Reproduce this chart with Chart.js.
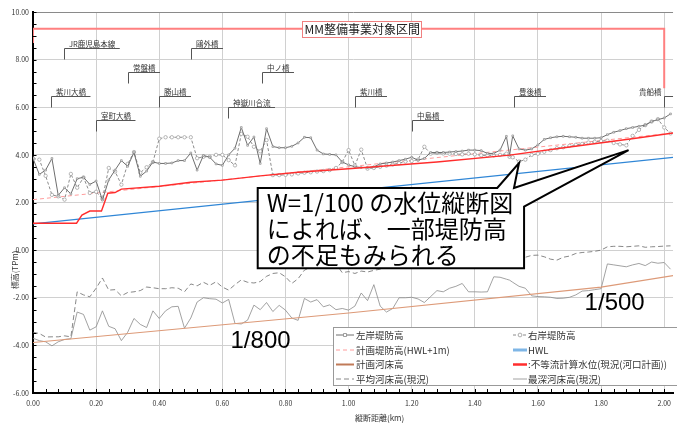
<!DOCTYPE html>
<html lang="ja">
<head>
<meta charset="utf-8">
<title>紫川 水位縦断図</title>
<script src="https://cdn.jsdelivr.net/npm/chart.js@4.4.1/dist/chart.umd.min.js"></script>
<style>
  html, body { margin: 0; padding: 0; background: #fff; }
  #wrap { width: 677px; height: 423px; }
</style>
</head>
<body>
<div id="wrap"><canvas id="profileChart" width="677" height="423"></canvas></div>
<script>
// 測点 (縦断距離 km)
const stations = [
  0.00, 0.02, 0.04, 0.06, 0.08, 0.10, 0.12, 0.14, 0.16, 0.18,
  0.20, 0.22, 0.24, 0.26, 0.28, 0.30, 0.32, 0.34, 0.36, 0.38,
  0.40, 0.42, 0.44, 0.46, 0.48, 0.50, 0.52, 0.54, 0.56, 0.58,
  0.60, 0.62, 0.64, 0.66, 0.68, 0.70, 0.72, 0.74, 0.76, 0.78,
  0.80, 0.82, 0.84, 0.86, 0.88, 0.90, 0.92, 0.94, 0.96, 0.98,
  1.00, 1.02, 1.04, 1.06, 1.08, 1.10, 1.12, 1.14, 1.16, 1.18,
  1.20, 1.22, 1.24, 1.26, 1.28, 1.30, 1.32, 1.34, 1.36, 1.38,
  1.40, 1.42, 1.44, 1.46, 1.48, 1.50, 1.51, 1.52, 1.54, 1.56, 1.58,
  1.60, 1.62, 1.64, 1.66, 1.68, 1.70, 1.72, 1.74, 1.76, 1.78,
  1.80, 1.82, 1.84, 1.86, 1.88, 1.90, 1.92, 1.94, 1.96, 1.98,
  2.00, 2.02
];

// 左岸堤防高
const leftBank = [
  3.85, 3.18, 3.36, 3.85, 2.30, 2.62, 2.36, 3.00, 3.06, 2.76,
  2.90, 2.10, 2.95, 3.36, 3.76, 3.52, 4.10, 3.10, 3.32, 3.70,
  3.64, 3.64, 3.66, 3.76, 3.76, 4.08, 3.36, 3.98, 3.90, 3.62,
  3.56, 4.00, 4.28, 5.15, 4.40, 4.75, 3.64, 5.10, 4.35, 4.30,
  4.30, 4.36, 4.50, 4.74, 4.72, 4.20, 4.04, 4.02, 4.00, 3.70,
  3.58, 3.50, 3.47, 3.46, 3.50, 3.62, 3.66, 3.70, 3.76, 3.82,
  3.90, 3.78, 3.85, 4.10, 4.10, 4.10, 4.12, 4.14, 4.16, 4.20,
  4.20, 4.18, 4.06, 4.06, 4.20, 4.78, 3.98, 4.80, 4.25, 4.20, 4.25,
  4.42, 4.65, 4.72, 4.76, 4.78, 4.76, 4.74, 4.70, 4.70, 4.70,
  4.72, 4.85, 4.95, 5.02, 5.10, 5.15, 5.20, 5.25, 5.40, 5.48,
  5.55, 5.72
];

// 右岸堤防高
const rightBank = [
  3.85, 3.80, 3.12, 2.32, 2.26, 2.12, 3.20, 2.62, 3.05, 2.40,
  2.45, 2.15, 3.45, 3.30, 2.75, 3.62, 4.12, 3.25, 3.48, 3.70,
  4.68, 4.74, 4.74, 4.74, 4.74, 4.74, 3.86, 3.92, 3.92, 4.00,
  4.00, 3.78, 3.56, 4.88, 4.76, 4.34, 4.15, 4.62, 3.15, 3.15,
  3.16, 3.18, 3.22, 3.25, 3.27, 3.30, 3.32, 3.36, 3.45, 3.70,
  4.20, 3.55, 4.22, 3.42, 3.45, 3.50, 3.55, 3.60, 3.65, 3.72,
  3.74, 3.80, 4.34, 4.05, 4.08, 4.06, 4.05, 4.04, 4.02, 4.05,
  4.02, 3.98, 3.98, 3.98, 4.00, 4.05, 3.92, 3.90, 3.72, 3.80, 4.00,
  4.05, 4.13, 4.20, 4.28, 4.32, 4.38, 4.42, 4.46, 4.52, 4.55,
  4.58, 4.60, 4.50, 4.44, 4.40, 4.80, 5.05, 5.25, 5.40, 5.50,
  5.15, 4.90
];

// 平均河床高(現況)
const avgBed = [
  -3.45, -3.50, -3.65, -3.64, -3.64, -3.60, -3.64, -1.75, -1.88, -1.96,
  -1.60, -1.17, -1.68, -1.66, -1.92, -1.78, -1.75, -1.70, -1.55, -1.58,
  -1.62, -1.62, -1.58, -1.60, -1.75, -1.42, -1.50, -1.35, -1.48, -1.33,
  -1.55, -1.68, -1.45, -1.25, -1.35, -1.38, -1.32, -1.10, -0.98, -0.95,
  -1.12, -1.40, -1.20, -0.84, -0.72, -0.70, -0.68, -0.60, -0.58, -0.95,
  -0.90, -0.98, -0.88, -0.92, -0.85, -0.80, -0.72, -0.70, -0.72, -0.65,
  -0.66, -0.60, -0.62, -0.55, -0.58, -0.50, -0.52, -0.45, -0.48, -0.42,
  -0.44, -0.40, -0.42, -0.38, -0.35, -0.32, -0.30, -0.28, -0.25, -0.30, -0.22,
  -0.21, -0.28, -0.38, -0.42, -0.30, -0.25, -0.14, -0.10, -0.08, -0.05,
  0.00, 0.14, 0.16, 0.16, 0.14, 0.16, 0.18, 0.12, 0.14, 0.15,
  0.17, 0.18
];

// 最深河床高(現況)
const deepBed = [
  -3.70, -3.80, -3.85, -4.02, -3.85, -3.75, -3.72, -2.60, -2.70, -3.36,
  -3.22, -2.55, -3.20, -3.30, -3.80, -3.45, -2.87, -3.12, -3.25, -2.55,
  -2.87, -2.55, -2.38, -2.36, -3.28, -2.85, -2.18, -2.00, -2.04, -2.06,
  -2.22, -2.07, -3.08, -3.10, -2.94, -2.31, -2.50, -2.20, -2.58, -2.32,
  -2.52, -2.85, -2.95, -2.03, -2.18, -2.08, -2.38, -2.30, -2.50, -2.45,
  -2.52, -2.35, -1.80, -2.12, -1.45, -2.35, -2.60, -2.45, -2.00, -2.00,
  -1.98, -2.05, -2.20, -1.95, -1.70, -1.75, -1.60, -1.52, -1.40, -1.75,
  -1.75, -1.76, -1.75, -1.12, -1.14, -1.22, -1.26, -1.35, -1.52, -1.60, -1.92,
  -1.95, -1.96, -1.98, -2.03, -2.02, -1.98, -1.88, -1.72, -1.70, -1.66,
  -1.62, -0.58, -0.62, -0.66, -0.70, -0.62, -0.56, -0.65, -0.50, -0.55,
  -0.52, -0.80
];

// 計画堤防高(HWL+1m)
const planBankKm = [0, 2.03];
const planBank = [2.12, 4.92];

// HWL
const hwlKm = [0, 2.03];
const hwl = [1.10, 3.90];

// 計画河床高 (1/800 → 1/500)
const planBedKm = [0, 1.00, 1.80, 2.03];
const planBed = [-3.88, -2.64, -1.55, -1.07];

// 不等流計算水位(現況(河口計画))
const waterKm = [0, 0.138, 0.155, 0.18, 0.217, 0.237, 0.26, 0.28, 0.40, 0.50, 0.60, 0.72, 0.84, 1.00, 1.28, 1.51, 1.70, 1.91, 2.03];
const waterLevel = [1.13, 1.13, 1.47, 1.64, 1.64, 2.39, 2.42, 2.56, 2.68, 2.85, 2.94, 3.12, 3.27, 3.42, 3.70, 3.99, 4.33, 4.70, 4.92];

// MM整備事業対象区間
const mmKm = [0, 0, 2.0, 2.0];
const mmLevel = [8.7, 9.3, 9.3, 6.8];
const mmTitle = 'MM整備事業対象区間';
const mmTitleKm = 1.043;

// 橋梁など
const bridgeNames = ['紫川大橋', 'JR鹿児島本線', '室町大橋', '常盤橋', '勝山橋', '鷗外橋', '神嶽川合流', '中ノ橋', '紫川橋', '中島橋', '豊後橋', '貴船橋'];
const bridgeKm = [0.058, 0.098, 0.200, 0.300, 0.400, 0.500, 0.618, 0.725, 1.020, 1.200, 1.523, 2.000];
const bridgeLevel = [6.47, 8.47, 5.47, 7.47, 6.47, 8.47, 6.00, 7.47, 6.47, 5.47, 6.47, 6.47];

// 注記
const noteLines = ['W=1/100 の水位縦断図', 'によれば、一部堤防高', 'の不足もみられる'];
const gradeLabels = ['1/800', '1/500'];
const gradeKm = [0.721, 1.843];
const gradeLevel = [-3.82, -2.23];

const xTitle = '縦断距離(km)';
const yTitle = '標高(TPm)';

const pts = (xs, ys) => xs.map((x, i) => ({ x: x, y: ys[i] }));

Chart.defaults.font.family = '"Noto Sans CJK JP", "Noto Sans", sans-serif';

const datasets = [
  { label: ':不等流計算水位(現況(河口計画))', data: pts(waterKm, waterLevel), borderColor: '#ff2d2d', borderWidth: 1.4, pointRadius: 0, legendWidth: 2.5 },
  { label: '左岸堤防高', data: pts(stations, leftBank), borderColor: '#6e6e6e', borderWidth: 1,
    pointStyle: 'rect', pointRadius: 1.2, pointBackgroundColor: '#fff', pointBorderColor: '#888', pointBorderWidth: 0.7 },
  { label: '右岸堤防高', data: pts(stations, rightBank), borderColor: '#8c8c8c', borderWidth: 1, borderDash: [3, 2],
    pointStyle: 'circle', pointRadius: 1.7, pointBackgroundColor: '#fff', pointBorderColor: '#999', pointBorderWidth: 0.7 },
  { label: '計画堤防高(HWL+1m)', data: pts(planBankKm, planBank), borderColor: '#ff9c9c', borderWidth: 1, borderDash: [4, 3], pointRadius: 0 },
  { label: 'HWL', data: pts(hwlKm, hwl), borderColor: '#2f86d6', borderWidth: 1.2, pointRadius: 0, legendColor: '#7fb6e6', legendWidth: 3 },
  { label: '計画河床高', data: pts(planBedKm, planBed), borderColor: '#dd9a78', borderWidth: 1.2, pointRadius: 0, legendColor: '#c07a58', legendWidth: 2 },
  { label: '最深河床高(現況)', data: pts(stations, deepBed), borderColor: '#8a8a8a', borderWidth: 0.8, pointRadius: 0 },
  { label: '平均河床高(現況)', data: pts(stations, avgBed), borderColor: '#6a6a6a', borderWidth: 0.8, borderDash: [5, 3], pointRadius: 0 },
  { label: 'MM', data: pts(mmKm, mmLevel), borderColor: '#ff8080', borderWidth: 2, pointRadius: 0 }
];

const legendOrder = ['左岸堤防高', '右岸堤防高', '計画堤防高(HWL+1m)', 'HWL', '計画河床高', ':不等流計算水位(現況(河口計画))', '平均河床高(現況)', '最深河床高(現況)'];

function drawLegend(chart) {
  const c = chart.ctx;
  const left = 333, top = 327, bottom = 385;
  c.save();
  c.fillStyle = '#fff';
  c.fillRect(left, top, chart.width - left + 2, bottom - top);
  c.strokeStyle = '#999';
  c.lineWidth = 1;
  c.strokeRect(left + 0.5, top + 0.5, chart.width - left + 2, bottom - top);
  c.font = '9.5px "Noto Sans CJK JP"';
  c.textAlign = 'left';
  c.textBaseline = 'middle';
  const rows = [335, 350, 364.5, 379];
  const cols = [[336, 354, 356], [513, 527, 528]];
  legendOrder.forEach((name, i) => {
    const ds = chart.data.datasets.find(d => d.label === name);
    const y = rows[Math.floor(i / 2)];
    const col = cols[i % 2];
    c.strokeStyle = ds.legendColor || ds.borderColor;
    c.lineWidth = ds.legendWidth || ds.borderWidth;
    c.setLineDash(ds.borderDash || []);
    c.beginPath();
    c.moveTo(col[0], y);
    c.lineTo(col[1], y);
    c.stroke();
    c.setLineDash([]);
    if (ds.pointRadius) {
      const mx = (col[0] + col[1]) / 2;
      c.fillStyle = '#fff';
      c.strokeStyle = ds.pointBorderColor;
      c.lineWidth = 0.8;
      c.beginPath();
      if (ds.pointStyle === 'circle') c.arc(mx, y, 1.9, 0, Math.PI * 2);
      else c.rect(mx - 1.5, y - 1.5, 3, 3);
      c.fill();
      c.stroke();
    }
    c.fillStyle = '#333';
    c.fillText(name, col[2], y);
  });
  c.restore();
}

const decor = {
  id: 'decor',
  afterDatasetsDraw(chart) {
    const c = chart.ctx, xs = chart.scales.x, ys = chart.scales.y, area = chart.chartArea;
    c.save();
    // 橋梁の引出線と名称
    c.font = '7.5px "Noto Sans CJK JP"';
    c.textBaseline = 'bottom';
    c.lineWidth = 1;
    c.strokeStyle = '#555';
    c.fillStyle = '#333';
    bridgeNames.forEach((name, i) => {
      const x = Math.round(xs.getPixelForValue(bridgeKm[i])) + 0.5;
      const yTop = Math.round(ys.getPixelForValue(bridgeLevel[i])) + 0.5;
      const w = c.measureText(name).width + 9;
      c.beginPath();
      c.moveTo(x, yTop + 11);
      c.lineTo(x, yTop);
      if (x + w > area.right) {
        c.lineTo(area.right, yTop);
        c.textAlign = 'right';
        c.fillText(name, x - 3, yTop - 1);
      } else {
        c.lineTo(x + w, yTop);
        c.textAlign = 'center';
        c.fillText(name, x + w / 2, yTop - 1);
      }
      c.stroke();
    });
    // 対象区間の名称
    c.font = '12px "Noto Sans CJK JP"';
    c.textAlign = 'center';
    c.textBaseline = 'middle';
    const cx = xs.getPixelForValue(mmTitleKm), cy = Math.round(ys.getPixelForValue(mmLevel[1]));
    const tw = c.measureText(mmTitle).width;
    c.fillStyle = '#fff';
    c.fillRect(cx - tw / 2 - 2, cy - 8, tw + 4, 16);
    c.strokeStyle = '#f08080';
    c.strokeRect(Math.round(cx - tw / 2 - 2) + 0.5, cy - 7.5, Math.round(tw + 4), 16);
    c.fillStyle = '#222';
    c.fillText(mmTitle, cx, cy + 0.5);
    c.restore();
  },
  afterDraw(chart) {
    const c = chart.ctx, xs = chart.scales.x, ys = chart.scales.y, area = chart.chartArea;
    c.save();
    // 内向きの補助目盛
    c.strokeStyle = '#000';
    c.lineWidth = 1;
    c.beginPath();
    for (let i = 0; i <= 32; i++) {
      const y = Math.round(ys.getPixelForValue(-6 + i * 0.5)) + 0.5;
      c.moveTo(area.left, y);
      c.lineTo(area.left + 3.5, y);
    }
    for (let i = 0; i <= 50; i++) {
      const x = Math.round(xs.getPixelForValue(i * 0.04)) + 0.5;
      c.moveTo(x, area.bottom);
      c.lineTo(x, area.bottom - 4);
    }
    c.stroke();

    // 吹き出し
    const P = (k, v) => [xs.getPixelForValue(k), ys.getPixelForValue(v)];
    const shape = [P(0.712, 2.61), P(1.471, 2.61), P(1.540, 3.66), P(1.524, 2.61), P(1.887, 4.20),
                   P(1.556, 1.83), P(1.556, -0.76), P(0.712, -0.76)];
    c.beginPath();
    shape.forEach((p, i) => i ? c.lineTo(p[0], p[1]) : c.moveTo(p[0], p[1]));
    c.closePath();
    c.fillStyle = '#fff';
    c.fill();
    c.strokeStyle = '#000';
    c.lineWidth = 2;
    c.lineJoin = 'miter';
    c.stroke();
    c.fillStyle = '#000';
    c.font = '24px "Noto Sans CJK JP"';
    c.textAlign = 'left';
    c.textBaseline = 'middle';
    noteLines.forEach((t, i) => c.fillText(t, shape[0][0] + 9, shape[0][1] + 15 + i * 26));

    // 勾配
    c.font = '24px "Liberation Sans", Arial, sans-serif';
    c.textAlign = 'center';
    gradeLabels.forEach((t, i) => c.fillText(t, xs.getPixelForValue(gradeKm[i]), ys.getPixelForValue(gradeLevel[i])));

    drawLegend(chart);

    // 軸タイトル
    c.fillStyle = '#333';
    c.font = '8px "Noto Sans CJK JP"';
    c.textAlign = 'left';
    c.textBaseline = 'middle';
    c.fillText(xTitle, 355, 418);
    c.translate(15, 270);
    c.rotate(-Math.PI / 2);
    c.textAlign = 'center';
    c.fillText(yTitle, 0, 0);
    c.restore();
  }
};

new Chart(document.getElementById('profileChart').getContext('2d'), {
  type: 'line',
  data: { datasets: datasets },
  options: {
    responsive: false,
    animation: false,
    layout: { padding: { top: 12, left: 0, right: 0, bottom: 0 }, autoPadding: false },
    plugins: { legend: { display: false }, tooltip: { enabled: false } },
    elements: { line: { tension: 0 } },
    scales: {
      x: {
        type: 'linear', min: 0, max: 2.028,
        ticks: { stepSize: 0.2, includeBounds: false, callback: v => v.toFixed(2), font: { size: 7 }, color: '#333', padding: 6, maxRotation: 0, autoSkip: false },
        grid: { color: '#d0d0d0', drawTicks: false },
        border: { color: '#000', width: 2 },
        afterFit: s => { s.height = 30; }
      },
      y: {
        min: -6, max: 10,
        ticks: { stepSize: 2, callback: v => v.toFixed(2), font: { size: 7 }, color: '#333', padding: 4 },
        grid: { color: c => (c.tick && c.tick.value === 10 ? '#8a8a8a' : '#d0d0d0'), drawTicks: false },
        border: { color: '#000', width: 2 },
        afterFit: s => { s.width = 33; }
      }
    }
  },
  plugins: [decor]
});
</script>
</body>
</html>
